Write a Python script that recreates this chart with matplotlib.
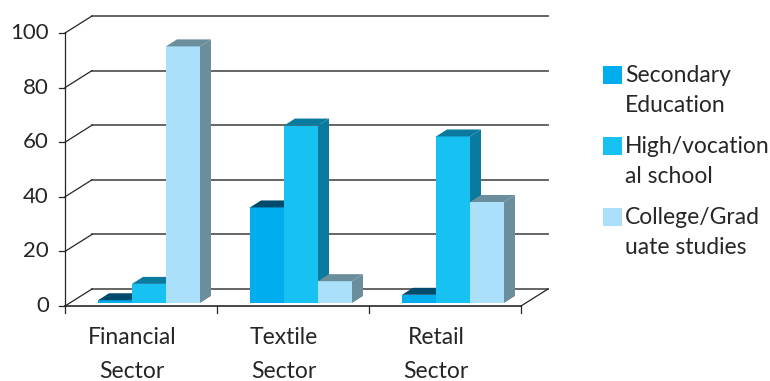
import matplotlib.pyplot as plt
from matplotlib.patches import Polygon, Rectangle

sectors = ["Financial\nSector", "Textile\nSector", "Retail\nSector"]
levels = ["Secondary\nEducation", "High/vocation\nal school", "College/Grad\nuate studies"]
secondary = [1, 35, 3]
high_school = [7, 65, 61]
college = [94, 8, 37]

face_colors = ["#00aeef", "#17c2f3", "#aae0f9"]
shade_colors = ["#004a6b", "#0a7b9e", "#6a8e9b"]
text_color = "#262626"

plt.rcParams["font.family"] = ["Lato", "DejaVu Sans"]

W, H = 770, 381
fig = plt.figure(figsize=(W / 100, H / 100), dpi=100)
# front plane of the 3d box, in pixels: x 65..521, y(0)=306, y(100)=33
ax = fig.add_axes([65 / W, (H - 306) / H, 456 / W, 273 / H])
ax.set_xlim(0, 3)
ax.set_ylim(0, 100)
ax.axis("off")

px = 3 / 456      # one pixel in x data units
py = 100 / 273    # one pixel in y data units

# depth of the floor / walls
DX, DY = 27 * px, 17 * py
# where the bars sit in depth, and how deep they are
BX, BY = 5 * px, 3 * py
DBX, DBY = 11 * px, 7 * py
BW = 34 * px

# back wall gridlines and left wall diagonals
for v in range(0, 101, 20):
    ax.plot([DX, 3 + DX], [v + DY, v + DY], color="#595959", lw=1.3,
            clip_on=False, zorder=1)
    ax.plot([0, DX], [v, v + DY], color="#262626", lw=0.9,
            clip_on=False, zorder=1)
    ax.plot([-6 * px, 0], [v, v], color="#262626", lw=0.9, clip_on=False)
    ax.text(-16 * px, v, str(v), ha="right", va="center", fontsize=16,
            color=text_color)

# floor outline and axis
ax.plot([0, 0], [0, 100], color="#262626", lw=0.9, clip_on=False, zorder=2)
ax.plot([0, 3], [0, 0], color="#262626", lw=1.2, clip_on=False, zorder=2)
ax.plot([3, 3 + DX], [0, DY], color="#262626", lw=0.9, clip_on=False, zorder=2)
for k in range(4):
    ax.plot([k, k], [0, -7 * py], color="#262626", lw=0.9, clip_on=False)

# bars: front faces through ax.bar, then top and right side faces
series = [secondary, high_school, college]
centers = [i + 0.5 + 3 * px + BX for i in range(3)]
for j, vals in enumerate(series):
    lefts = [c + (j - 1.5) * BW for c in centers]
    bars = ax.bar(lefts, vals, width=BW, bottom=BY, align="edge",
                  color=face_colors[j], linewidth=0, clip_on=False)
    for b, x0, v in zip(bars, lefts, vals):
        z = 10 + 3 * j
        b.set_zorder(z)
        top = BY + v
        ax.add_patch(Polygon([(x0, top), (x0 + BW, top),
                              (x0 + BW + DBX, top + DBY), (x0 + DBX, top + DBY)],
                             closed=True, color=shade_colors[j], lw=0,
                             clip_on=False, zorder=z + 1))
        ax.add_patch(Polygon([(x0 + BW, BY), (x0 + BW + DBX, BY + DBY),
                              (x0 + BW + DBX, top + DBY), (x0 + BW, top)],
                             closed=True, color=shade_colors[j], lw=0,
                             clip_on=False, zorder=z + 2))

# category labels
for i, name in enumerate(sectors):
    first, second = name.split("\n")
    ax.text(i + 0.44, -38 * py, first, ha="center", va="baseline",
            fontsize=16.5, color=text_color)
    ax.text(i + 0.44, -72 * py, second, ha="center", va="baseline",
            fontsize=16.5, color=text_color)

# legend
for j, lab in enumerate(levels):
    top = 66 + 71 * j
    fig.add_artist(Rectangle((603 / W, 1 - (top + 18) / H), 19 / W, 18 / H,
                             transform=fig.transFigure, color=face_colors[j], lw=0))
    for k, line in enumerate(lab.split("\n")):
        fig.text(625 / W, 1 - (top + 16 + 30 * k) / H, line, ha="left",
                 va="baseline", fontsize=16.5, color=text_color)

fig.savefig("out.png", dpi=100)
